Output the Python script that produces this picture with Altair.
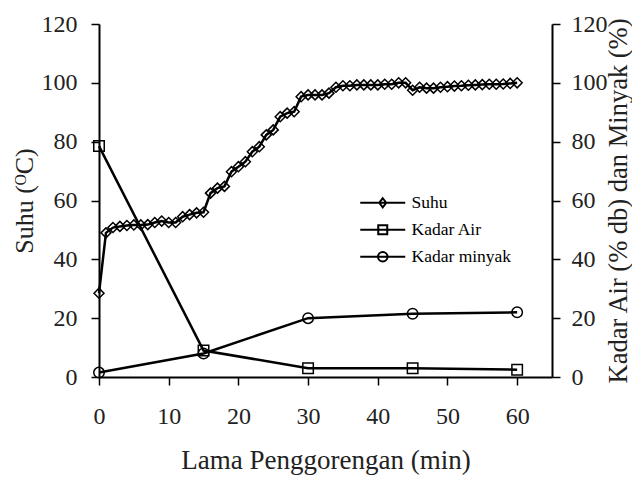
import altair as alt
import pandas as pd

# ---- data ----
suhu_minutes = list(range(0, 61))
suhu_values = [28.5, 49.0, 50.8, 51.2, 51.5, 51.7, 51.7, 51.8, 52.5, 53.0,
               52.5, 52.5, 54.5, 55.2, 55.8, 56.0, 62.5, 64.2, 64.8, 69.8,
               71.5, 73.2, 76.6, 78.3, 82.3, 84.0, 88.5, 89.7, 90.2, 95.3,
               95.9, 95.9, 95.9, 96.5, 98.5, 99.0, 99.0, 99.3, 99.3, 99.3,
               99.3, 99.5, 99.5, 100.0, 100.0, 97.5, 98.5, 98.2, 98.2, 98.5,
               98.7, 98.9, 99.0, 99.2, 99.3, 99.4, 99.5, 99.5, 99.6, 99.8,
               100.0]
kadar_minutes = [0, 15, 30, 45, 60]
kadar_air = [78.5, 9.0, 3.0, 3.0, 2.5]
kadar_minyak = [1.5, 8.0, 20.0, 21.5, 22.0]

series_names = ["Suhu", "Kadar Air", "Kadar minyak"]
tick_vals_y = [0, 20, 40, 60, 80, 100, 120]
tick_vals_x = [0, 10, 20, 30, 40, 50, 60]

suhu_df = pd.DataFrame({"menit": suhu_minutes, "nilai": suhu_values, "seri": "Suhu"})
air_df = pd.DataFrame({"menit": kadar_minutes, "nilai": kadar_air, "seri": "Kadar Air"})
minyak_df = pd.DataFrame({"menit": kadar_minutes, "nilai": kadar_minyak, "seri": "Kadar minyak"})
all_df = pd.concat([suhu_df, air_df, minyak_df], ignore_index=True)

FONT = "Liberation Serif"

x_enc = alt.X("menit:Q",
              scale=alt.Scale(domain=[0, 65], nice=False),
              axis=alt.Axis(values=tick_vals_x,
                            title="Lama Penggorengan (min)",
                            titlePadding=19, titleFontSize=27))

y_left = alt.Y("nilai:Q",
               scale=alt.Scale(domain=[0, 120], nice=False),
               axis=alt.Axis(values=tick_vals_y,
                             title="Suhu (ᴼC)", orient="left",
                             labelPadding=14, titleX=-75, titleBaseline="middle",
                             titleFontSize=26))
y_right = alt.Y("nilai:Q",
                scale=alt.Scale(domain=[0, 120], nice=False),
                axis=alt.Axis(values=tick_vals_y,
                              title="Kadar Air (% db) dan Minyak (%)", orient="right",
                              labelPadding=11, titleAngle=270, titleX=66,
                              titleBaseline="middle", titleFontSize=26.5))

# Suhu (left axis)
suhu_line = alt.Chart(suhu_df).mark_line(color="black", strokeWidth=2.5).encode(x=x_enc, y=y_left)
suhu_pts = alt.Chart(suhu_df).mark_point(shape="diamond", size=100, filled=False,
                                         color="black", strokeWidth=1.5, opacity=1).encode(x=x_enc, y=y_left)
left_layer = alt.layer(suhu_line, suhu_pts)

# Kadar (right axis)
air_line = alt.Chart(air_df).mark_line(color="black", strokeWidth=2.5).encode(x=x_enc, y=y_right)
air_pts = alt.Chart(air_df).mark_point(shape="square", size=110, filled=False,
                                       color="black", strokeWidth=1.5, opacity=1).encode(x=x_enc, y=y_right)
minyak_line = alt.Chart(minyak_df).mark_line(color="black", strokeWidth=2.5).encode(x=x_enc, y=y_right)
minyak_pts = alt.Chart(minyak_df).mark_point(shape="circle", size=110, filled=False,
                                             color="black", strokeWidth=1.5, opacity=1).encode(x=x_enc, y=y_right)

# legend (line + marker symbols)
leg_paths = [
    "M-4.5,0H4.5M0,-0.9L0.7,0L0,0.9L-0.7,0Z",
    "M-4.5,0H4.5M-0.9,-0.9H0.9V0.9H-0.9Z",
    "M-4.5,0H4.5M-0.95,0A0.95,0.95 0 1,1 0.95,0A0.95,0.95 0 1,1 -0.95,0Z",
]
legend_layer = alt.Chart(all_df).mark_point(opacity=0, size=100, filled=False, color="black").encode(
    x=x_enc,
    y=y_right,
    shape=alt.Shape("seri:N",
                    scale=alt.Scale(domain=series_names, range=leg_paths),
                    legend=alt.Legend(title=None, orient="none", legendX=275, legendY=170,
                                      symbolOpacity=1, symbolStrokeColor="black",
                                      symbolFillColor="transparent", symbolStrokeWidth=2,
                                      symbolSize=100, labelOffset=20, rowPadding=8,
                                      labelFont=FONT, labelFontSize=17.5, labelColor="black")),
)
right_layer = alt.layer(air_line, minyak_line, air_pts, minyak_pts, legend_layer)

chart = alt.layer(left_layer, right_layer).resolve_scale(y="independent").properties(
    width=453, height=353,
    autosize=alt.AutoSizeParams(type="none"),
    padding={"left": 91, "top": 16, "right": 80, "bottom": 98},
).configure_view(stroke=None).configure_axis(
    grid=False,
    domainColor="black", domainWidth=2,
    tickColor="black", tickWidth=1.5, tickSize=8,
    labelFont=FONT, labelFontSize=24, labelColor="#222222",
    titleFont=FONT, titleFontSize=26, titleFontWeight="normal", titleColor="#222222",
    labelFlush=False,
).configure_axisX(labelPadding=19)

chart.save("out.html", embed_options={"renderer": "svg", "actions": False})
